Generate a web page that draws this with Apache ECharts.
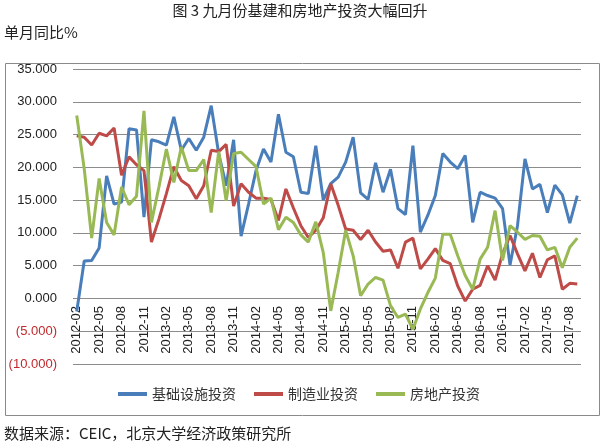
<!DOCTYPE html>
<html><head><meta charset="utf-8">
<script src="https://cdn.jsdelivr.net/npm/echarts@6/dist/echarts.min.js"></script>
<style>html,body{margin:0;padding:0;background:#fff}#c{width:600px;height:446px}</style>
</head><body><div id="c"></div>
<script>
const titleText = '图 3 九月份基建和房地产投资大幅回升';
const unitText = '单月同比%';
const sourceText = '数据来源：CEIC，北京大学经济政策研究所';
const seriesNames = ['基础设施投资', '制造业投资', '房地产投资'];
const months = [
 '2012-02','2012-03','2012-04','2012-05','2012-06','2012-07','2012-08','2012-09','2012-10','2012-11','2012-12',
 '2013-01','2013-02','2013-03','2013-04','2013-05','2013-06','2013-07','2013-08','2013-09','2013-10','2013-11','2013-12',
 '2014-01','2014-02','2014-03','2014-04','2014-05','2014-06','2014-07','2014-08','2014-09','2014-10','2014-11','2014-12',
 '2015-01','2015-02','2015-03','2015-04','2015-05','2015-06','2015-07','2015-08','2015-09','2015-10','2015-11','2015-12',
 '2016-01','2016-02','2016-03','2016-04','2016-05','2016-06','2016-07','2016-08','2016-09','2016-10','2016-11','2016-12',
 '2017-01','2017-02','2017-03','2017-04','2017-05','2017-06','2017-07','2017-08','2017-09'
];
const infra = [-2.0,5.7,5.8,7.7,18.7,14.4,14.7,25.9,25.7,12.4,
 24.2,23.9,23.4,27.7,22.6,24.4,22.6,24.6,29.4,22.1,
 17.2,24.2,9.5,14.4,19.5,22.8,20.8,28.1,22.3,21.6,
 16.2,16.0,23.3,15.0,17.5,18.5,20.8,24.6,16.1,15.1,
 20.7,16.2,19.7,13.7,12.8,23.3,10.1,12.7,15.7,22.1,
 20.8,19.8,21.8,11.6,16.2,15.7,15.3,13.7,5.1,11.1,
 21.3,16.7,17.4,13.1,17.3,15.8,11.5,15.7];
const manu = [24.8,24.6,23.4,25.2,24.8,26.0,18.8,21.6,20.4,19.5,
 8.6,12.1,16.0,20.1,18.0,17.2,15.2,17.2,22.6,22.4,
 23.5,14.1,17.5,16.2,15.3,15.3,15.1,11.9,16.7,13.8,
 11.1,9.3,10.4,12.3,17.5,14.2,10.6,10.4,9.0,10.4,
 8.6,7.2,7.4,4.6,8.6,9.2,4.5,6.0,7.6,5.8,
 5.3,1.9,-0.4,1.4,2.0,5.0,2.8,6.8,9.6,6.8,
 4.2,6.9,3.2,5.9,6.5,1.4,2.3,2.2];
const realty = [27.9,19.8,9.2,18.3,11.6,9.7,17.0,14.3,15.6,28.6,
 11.6,17.0,22.8,17.7,23.1,19.5,19.5,21.2,13.1,22.4,
 14.9,22.1,22.3,21.2,20.1,14.4,15.3,10.5,12.4,11.6,
 9.7,8.6,11.7,7.0,-1.9,4.0,10.4,6.5,0.4,2.2,
 3.2,2.8,-1.1,-2.9,-2.4,-4.7,-1.6,0.9,3.1,9.8,
 9.8,6.5,3.5,1.4,6.0,7.8,13.4,5.8,11.1,10.1,
 9.0,9.6,9.5,7.4,7.8,4.7,7.8,9.2];
const colors = ['#4a7ebb', '#be4b48', '#98b954'];

const numFont = "'Liberation Sans', Arial, sans-serif";
const cjkFont = "'Noto Sans CJK SC', sans-serif";

function fmtY(v) {
  const s = Math.abs(v).toFixed(3);
  return v < 0 ? '{neg|(' + s + ')}' : '{pos|' + s + '}';
}

const chart = echarts.init(document.getElementById('c'), null, {renderer: 'canvas'});
const seriesData = [infra, manu, realty];
chart.setOption({
  animation: false,
  backgroundColor: '#fff',
  color: colors,
  graphic: [
    {type: 'rect', left: 3, top: 61, shape: {width: 594, height: 352},
     style: {fill: 'none', stroke: '#8a8a8a', lineWidth: 1}, z: -1},
    {type: 'text', left: 'center', top: 3, style: {text: titleText, font: '15px ' + cjkFont, fill: '#222'}},
    {type: 'text', left: 4, top: 25, style: {text: unitText, font: '15px ' + cjkFont, fill: '#222'}},
    {type: 'text', left: 4, top: 426, style: {text: sourceText, font: '15px ' + cjkFont, fill: '#222'}}
  ],
  legend: {
    left: 113, top: 382,
    itemWidth: 29, itemHeight: 4, itemGap: 18,
    icon: 'rect',
    textStyle: {fontFamily: cjkFont, fontSize: 14, color: '#333'},
    data: seriesNames
  },
  grid: {left: 73, right: 19, top: 69, bottom: 82, containLabel: false},
  xAxis: {
    type: 'category',
    data: months,
    boundaryGap: true,
    position: 'bottom',
    axisLine: {show: false, onZero: false},
    axisTick: {show: false},
    axisLabel: {rotate: 90, interval: 2, margin: -58, fontFamily: numFont, fontSize: 13, color: '#222'}
  },
  yAxis: {
    type: 'value',
    min: -10, max: 35, interval: 5,
    axisLine: {show: false},
    axisTick: {show: false},
    splitLine: {lineStyle: {color: '#8c8c8c', width: 1}},
    axisLabel: {
      margin: 16,
      formatter: fmtY,
      rich: {
        pos: {fontFamily: numFont, fontSize: 13, color: '#222'},
        neg: {fontFamily: numFont, fontSize: 13, color: '#c0282d'}
      }
    }
  },
  series: seriesNames.map((n, k) => ({
    name: n,
    type: 'line',
    data: seriesData[k],
    symbol: 'none',
    smooth: false,
    lineStyle: {width: 3, color: colors[k]},
    itemStyle: {color: colors[k]}
  }))
});
</script></body></html>
